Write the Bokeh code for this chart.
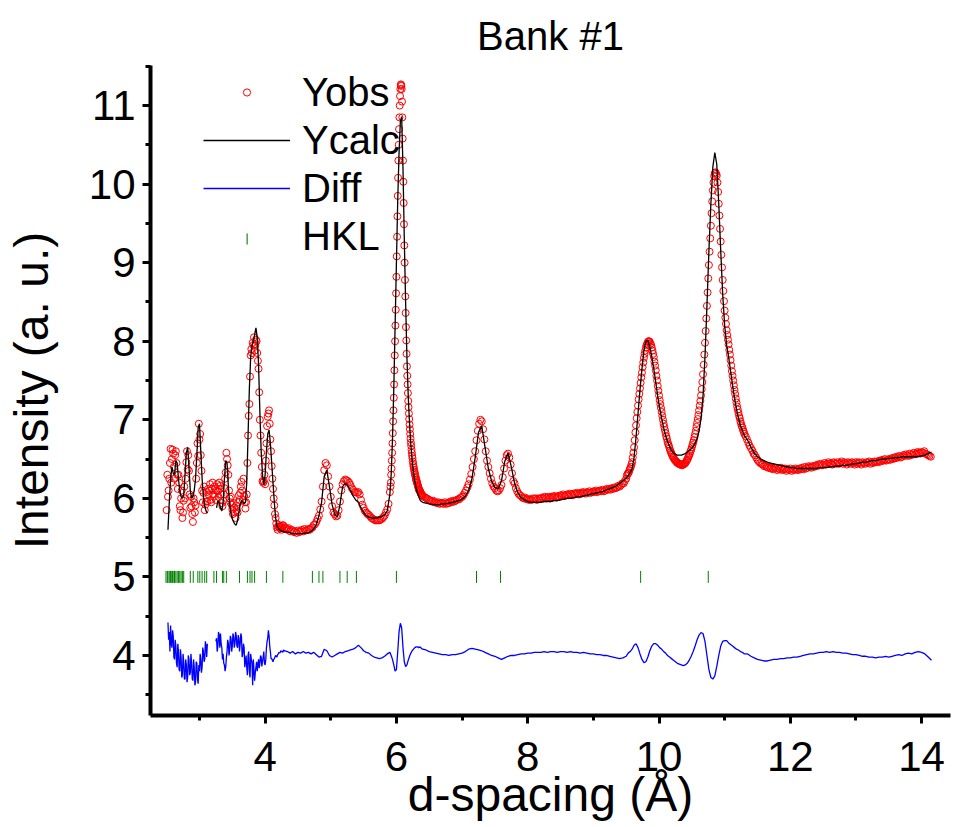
import numpy as np
from bokeh.plotting import figure
from bokeh.models import (Range1d, Legend, LegendItem, SingleIntervalTicker,
                          BoxAnnotation)
from bokeh.embed import file_html
from bokeh.resources import INLINE

nan = float("nan")
FONT = "Liberation Sans"

# ---- calculated profile, bank 1 (d in Angstrom) ----
d_low = [2.52, 2.54, 2.56, 2.58, 2.60, 2.62, 2.64, 2.66, 2.68, 2.70,
         2.72, 2.74, 2.76, 2.78, 2.80, 2.82, 2.84, 2.86, 2.88, 2.90,
         2.92, 2.94, 2.96, 2.98, 3.00, 3.02, 3.04, 3.06, 3.08, 3.10,
         3.12, 3.14, 3.16, 3.18, 3.20, 3.22, 3.24, 3.26, 3.28, 3.30,
         3.32, 3.34, 3.36, 3.38, 3.40, 3.42, 3.44, 3.46, 3.48, 3.50,
         3.52, 3.54, 3.56, 3.58, 3.60, 3.62, 3.64, 3.66, 3.68, 3.70,
         3.72, 3.74, 3.76, 3.78, 3.80, 3.82, 3.84, 3.86, 3.88, 3.90,
         3.92, 3.94, 3.96, 3.98, 4.00, 4.02, 4.04, 4.06, 4.08, 4.10,
         4.12, 4.14, 4.16, 4.18, 4.20, 4.22, 4.24, 4.26, 4.28, 4.30]
calc_low = [5.60, 5.95, 6.25, 6.40, 6.32, 6.30, 6.48, 6.45, 6.25, 6.10,
            6.02, 6.00, 6.05, 6.30, 6.58, 6.65, 6.40, 6.10, 6.00, 6.02,
            6.10, 6.25, 6.55, 6.90, 6.95, 6.60, 6.25, 6.02, 5.90, 5.84,
            5.81, nan, nan, nan, nan, nan, nan, 5.88, 5.97, 5.95,
            5.88, 5.84, 5.95, 6.25, 6.48, 6.45, 6.15, 5.92, 5.80, 5.74,
            5.70, 5.67, 5.66, 5.72, 5.82, 5.92, 5.97, 5.96, 5.93, 5.95,
            6.20, 6.80, 7.40, 7.80, 7.95, 8.00, 8.08, 8.17, 8.05, 7.70,
            7.10, 6.60, 6.30, 6.17, 6.30, 6.60, 6.82, 6.87, 6.70, 6.45,
            6.20, 5.95, 5.75, 5.65, 5.62, 5.60, 5.59, 5.58, 5.58, 5.57]

d_mid = [4.34, 4.38, 4.42, 4.46, 4.50, 4.54, 4.58, 4.62, 4.66, 4.70,
         4.74, 4.78, 4.82, 4.86, 4.90, 4.94, 4.98, 5.02, 5.06, 5.10,
         5.14, 5.18, 5.22, 5.26, 5.30, 5.34, 5.38, 5.42, 5.46, 5.50,
         5.54, 5.58, 5.62, 5.66, 5.70, 5.74, 5.78, 5.82, 5.86, 5.90]
calc_mid = [5.57, 5.56, 5.55, 5.55, 5.55, 5.55, 5.55, 5.56, 5.56, 5.58,
            5.61, 5.67, 5.78, 5.95, 6.28, 6.36, 6.15, 5.92, 5.80, 5.76,
            5.92, 6.15, 6.19, 6.16, 6.10, 6.03, 5.98, 5.95, 5.88, 5.82,
            5.78, 5.76, 5.75, 5.75, 5.75, 5.76, 5.77, 5.79, 5.84, 6.05]
diff_mid = [4.05, 4.03, 4.05, 4.02, 4.04, 4.03, 4.05, 4.03, 4.04, 4.02,
            4.04, 4.01, 3.98, 3.99, 4.08, 4.06, 4.00, 3.98, 4.00, 4.02,
            4.04, 4.03, 4.05, 4.06, 4.07, 4.08, 4.10, 4.13, 4.10, 4.06,
            4.04, 4.03, 4.00, 3.98, 3.97, 3.96, 3.97, 3.99, 4.02, 4.04]

d_peak6 = [5.92, 5.94, 5.96, 5.98, 6.00, 6.02, 6.04, 6.06, 6.08, 6.10,
           6.12, 6.14, 6.16, 6.18, 6.20, 6.22, 6.24, 6.26, 6.28, 6.30,
           6.32, 6.34, 6.36, 6.38, 6.40]
calc_peak6 = [6.30, 6.75, 7.40, 8.20, 9.00, 9.80, 10.40, 10.80, 10.86, 10.20,
              9.30, 8.50, 7.80, 7.30, 6.95, 6.68, 6.48, 6.33, 6.22, 6.13,
              6.07, 6.02, 5.98, 5.96, 5.95]
diff_peak6 = [4.00, 3.95, 3.88, 3.80, 3.82, 4.05, 4.30, 4.41, 4.35, 4.10,
              3.92, 3.86, 3.88, 3.94, 3.99, 4.03, 4.06, 4.08, 4.10, 4.11,
              4.11, 4.10, 4.11, 4.09, 4.08]

d_flat = [6.45, 6.50, 6.55, 6.60, 6.65, 6.70, 6.75, 6.80, 6.85, 6.90,
          6.95, 7.00, 7.05, 7.10, 7.15, 7.20, 7.25, 7.30, 7.35, 7.40,
          7.45, 7.50, 7.55, 7.60, 7.65, 7.70, 7.75, 7.80, 7.85, 7.90,
          7.95, 8.00, 8.05, 8.10, 8.15, 8.20, 8.25, 8.30, 8.35, 8.40,
          8.45, 8.50, 8.55, 8.60, 8.65, 8.70, 8.75, 8.80, 8.85, 8.90,
          8.95, 9.00, 9.05, 9.10, 9.15, 9.20, 9.25, 9.30, 9.35, 9.40,
          9.45, 9.50]
calc_flat = [5.94, 5.93, 5.92, 5.92, 5.92, 5.93, 5.93, 5.94, 5.95, 5.96,
             5.97, 5.99, 6.03, 6.10, 6.25, 6.52, 6.84, 6.92, 6.65, 6.38,
             6.22, 6.14, 6.12, 6.22, 6.47, 6.58, 6.40, 6.19, 6.07, 6.01,
             5.98, 5.96, 5.95, 5.95, 5.95, 5.95, 5.96, 5.96, 5.96, 5.97,
             5.97, 5.98, 5.99, 6.00, 6.00, 6.01, 6.02, 6.02, 6.03, 6.04,
             6.05, 6.06, 6.07, 6.08, 6.09, 6.11, 6.12, 6.14, 6.16, 6.19,
             6.22, 6.26]
diff_flat = [4.07, 4.05, 4.04, 4.03, 4.02, 4.01, 4.01, 4.00, 4.01, 4.01,
             4.02, 4.03, 4.05, 4.08, 4.09, 4.08, 4.07, 4.06, 4.04, 4.02,
             4.00, 3.99, 3.97, 3.95, 3.97, 3.99, 4.00, 4.00, 4.01, 4.02,
             4.02, 4.03, 4.03, 4.04, 4.04, 4.04, 4.05, 4.04, 4.05, 4.05,
             4.04, 4.05, 4.05, 4.04, 4.05, 4.04, 4.04, 4.03, 4.04, 4.03,
             4.02, 4.02, 4.01, 4.01, 4.00, 4.00, 3.99, 3.98, 3.97, 3.96,
             3.97, 3.99]

d_pair = [9.53, 9.56, 9.59, 9.62, 9.65, 9.68, 9.71, 9.74, 9.77, 9.80,
          9.83, 9.86, 9.89, 9.92, 9.95, 9.98, 10.01, 10.04, 10.07, 10.10,
          10.13, 10.16, 10.19, 10.22, 10.25, 10.28, 10.31, 10.34, 10.37, 10.40,
          10.43, 10.46, 10.49, 10.52, 10.55, 10.58, 10.61, 10.64, 10.67, 10.70,
          10.73, 10.76, 10.79, 10.82, 10.85, 10.88, 10.91, 10.94, 10.97, 11.00,
          11.03, 11.06, 11.09, 11.12, 11.15, 11.18, 11.21, 11.24, 11.27, 11.30]
calc_pair = [6.29, 6.33, 6.38, 6.52, 6.78, 7.08, 7.38, 7.65, 7.88, 8.00,
             8.01, 7.93, 7.80, 7.65, 7.48, 7.30, 7.15, 7.02, 6.90, 6.80,
             6.72, 6.66, 6.61, 6.58, 6.56, 6.55, 6.55, 6.55, 6.56, 6.57,
             6.59, 6.61, 6.63, 6.66, 6.70, 6.76, 6.86, 7.02, 7.30, 7.80,
             8.45, 9.15, 9.75, 10.22, 10.40, 10.25, 9.75, 9.15, 8.60, 8.20,
             7.95, 7.80, 7.62, 7.44, 7.28, 7.14, 7.02, 6.93, 6.86, 6.80]
diff_pair = [4.03, 4.05, 4.08, 4.13, 4.15, 4.10, 4.02, 3.95, 3.91, 3.92,
             3.98, 4.06, 4.12, 4.15, 4.15, 4.13, 4.10, 4.08, 4.05, 4.03,
             4.00, 3.98, 3.96, 3.94, 3.92, 3.90, 3.89, 3.88, 3.87, 3.88,
             3.90, 3.94, 3.99, 4.05, 4.12, 4.20, 4.26, 4.29, 4.28, 4.18,
             4.00, 3.82, 3.72, 3.70, 3.74, 3.86, 4.00, 4.12, 4.18, 4.19,
             4.19, 4.16, 4.14, 4.12, 4.10, 4.08, 4.07, 4.05, 4.04, 4.02]

d_tail = [11.35, 11.40, 11.45, 11.50, 11.55, 11.60, 11.65, 11.70, 11.75, 11.80,
          11.85, 11.90, 11.95, 12.00, 12.05, 12.10, 12.15, 12.20, 12.25, 12.30,
          12.35, 12.40, 12.45, 12.50, 12.55, 12.60, 12.65, 12.70, 12.75, 12.80,
          12.85, 12.90, 12.95, 13.00, 13.05, 13.10, 13.15, 13.20, 13.25, 13.30,
          13.35, 13.40, 13.45, 13.50, 13.55, 13.60, 13.65, 13.70, 13.75, 13.80,
          13.85, 13.90, 13.95, 14.00, 14.05, 14.10, 14.15]
calc_tail = [6.74, 6.65, 6.58, 6.53, 6.50, 6.48, 6.46, 6.45, 6.44, 6.43,
             6.42, 6.41, 6.40, 6.39, 6.39, 6.38, 6.38, 6.38, 6.38, 6.38,
             6.38, 6.38, 6.39, 6.39, 6.39, 6.40, 6.40, 6.41, 6.41, 6.42,
             6.42, 6.43, 6.44, 6.44, 6.45, 6.46, 6.46, 6.47, 6.48, 6.48,
             6.49, 6.50, 6.50, 6.51, 6.51, 6.52, 6.52, 6.53, 6.53, 6.53,
             6.53, 6.53, 6.53, 6.54, 6.55, 6.57, 6.59]
diff_tail = [4.02, 3.99, 3.97, 3.95, 3.94, 3.93, 3.93, 3.94, 3.95, 3.95,
             3.96, 3.96, 3.97, 3.97, 3.98, 3.98, 3.99, 4.00, 4.01, 4.02,
             4.02, 4.03, 4.04, 4.04, 4.05, 4.04, 4.05, 4.04, 4.04, 4.03,
             4.03, 4.02, 4.01, 4.01, 4.00, 3.99, 3.99, 3.98, 3.98, 3.97,
             3.98, 3.98, 3.99, 3.98, 3.99, 4.00, 4.01, 4.00, 4.02, 4.03,
             4.02, 4.04, 4.05, 4.04, 4.02, 3.98, 3.94]

# difference curve below 4.3 A, sampled every 0.01 A from 2.52 A
diff_low_start, diff_low_step = 2.52, 0.01
diff_low = [4.42, 4.20, 4.30, 4.05, 4.38, 4.15, 4.10, 4.32, 4.25, 3.98,
            3.95, 4.20, 4.12, 3.90, 3.85, 4.15, 4.05, 3.82, 3.80, 4.08,
            3.98, 3.72, 3.75, 4.02, 3.92, 3.70, 3.70, 3.95, 3.88, 3.66,
            3.72, 4.00, 3.95, 3.75, 3.78, 4.02, 3.90, 3.70, 3.68, 3.95,
            3.85, 3.62, 3.66, 3.92, 3.90, 3.70, 3.64, 3.88, 3.80, 4.02,
            3.95, 3.78, 3.85, 4.10, 4.05, 3.92, 3.95, 4.18, 4.12, 3.98,
            4.15, nan, nan, nan, nan, nan, nan, nan, nan, nan,
            nan, nan, nan, 4.18, 4.22, 4.05, 4.12, 4.30, 4.25, 4.10,
            4.28, 4.15, 4.10, 3.95, 4.02, 3.90, 3.88, 3.80, 3.85, 3.98,
            4.05, 4.20, 4.15, 4.00, 4.08, 4.25, 4.22, 4.05, 4.12, 4.28,
            4.24, 4.10, 4.15, 4.30, 4.25, 4.12, 4.10, 4.26, 4.22, 4.05,
            4.15, 4.28, 4.24, 3.98, 4.02, 4.15, 4.10, 3.85, 3.92, 4.00,
            3.85, 3.75, 4.00, 4.05, 3.80, 3.72, 4.02, 3.95, 3.90, 3.62,
            3.95, 3.82, 3.68, 3.78, 3.85, 3.92, 3.80, 3.88, 3.95, 3.84,
            3.90, 4.00, 3.98, 3.86, 3.92, 3.98, 4.05, 3.90, 3.88, 3.95,
            4.10, 4.18, 4.22, 4.32, 4.25, 4.12, 4.05, 3.96, 3.96, 3.94,
            3.92, 3.95, 3.96, 3.98, 4.00, 3.99, 3.98, 4.01, 4.02, 4.04,
            4.03, 4.04, 4.06, 4.05, 4.05, 4.04, 4.07, 4.06, 4.06]

# ---- observed intensities: (first d, d step, values) per scan segment ----
obs_low = [5.85, 6.30, 6.02, 6.10, 6.25, 6.45, 6.63, 6.20, 6.50, 6.62,
           6.57, 6.40, 6.25, 6.55, 6.60, 6.45, 6.30, 6.12, 6.30, 6.20,
           5.90, 5.85, 6.00, 6.10, 5.75, 5.82, 5.97, 6.15, 6.00, 6.25,
           6.46, 6.60, 6.37, 6.55, 6.35, 6.05, 5.88, 6.02, 5.90, 5.80,
           5.70, 6.00, 5.95, 5.82, 5.91, 6.25, 6.45, 6.70, 6.54, 6.95,
           6.75, 6.82, 6.55, 6.35, 6.10, 5.95, 6.07, 6.15, 5.85, 5.92,
           5.96, 6.08, 5.96, 6.12, 6.05, 6.10, 6.18, 5.98, 5.95, 6.12,
           6.20, 6.05, 6.02, 6.15, 6.12, 5.98, 6.10, 6.18, 6.09, 6.02,
           6.20, 6.12, 6.16, 6.05, 5.94, 5.90, 5.97, 6.05, 6.13, 6.25,
           6.33, 6.58, 6.50, 6.42, 6.30, 6.10, 6.00, 5.95, 6.02, 5.92,
           5.86, 5.80, 5.94, 5.88, 5.82, 5.75, 5.91, 5.85, 5.82, 5.95,
           6.04, 5.98, 6.07, 6.15, 6.21, 6.10, 5.98, 6.25, 6.03, 5.95,
           5.87, 5.95, 6.05, 6.45, 6.80, 7.05, 7.20, 7.55, 7.82, 7.90,
           7.85, 7.98, 7.95, 8.05, 7.88, 7.95, 8.02, 8.00, 7.85, 7.75,
           7.65, 7.35, 7.00, 6.80, 6.58, 6.40, 6.22, 6.20, 6.22, 6.30,
           6.18, 6.48, 6.70, 6.92, 7.04, 7.08, 7.12, 6.95, 6.75, 6.60,
           6.41, 6.25, 6.12, 6.00, 5.91, 5.80, 5.75, 5.68, 5.63, 5.60,
           5.64, 5.66, 5.64, 5.62, 5.65, 5.60, 5.63, 5.66, 5.65, 5.61,
           5.63]
obs_mid = [5.62, 5.60, 5.62, 5.58, 5.60, 5.59, 5.57, 5.58, 5.56, 5.59,
           5.57, 5.58, 5.60, 5.58, 5.61, 5.59, 5.60, 5.61, 5.60, 5.62,
           5.63, 5.66, 5.67, 5.70, 5.74, 5.78, 5.86, 5.96, 6.15, 6.36,
           6.45, 6.42, 6.28, 6.15, 6.02, 5.90, 5.82, 5.80, 5.77, 5.78,
           5.85, 5.96, 6.10, 6.18, 6.22, 6.24, 6.23, 6.22, 6.20, 6.17,
           6.13, 6.11, 6.08, 6.08, 6.07, 6.08, 6.05, 5.98, 5.92, 5.88,
           5.84, 5.82, 5.80, 5.79, 5.77, 5.75, 5.74, 5.73, 5.72, 5.72,
           5.72, 5.72, 5.73, 5.74, 5.76, 5.78, 5.82, 5.86, 5.93, 6.08]
obs_peak6 = [6.15, 6.20, 6.30, 6.38, 6.48, 6.58, 6.70, 6.83, 6.98, 7.12,
             7.28, 7.45, 7.63, 7.82, 8.00, 8.20, 8.40, 8.61, 8.82, 9.08,
             9.33, 9.59, 9.85, 10.08, 10.30, 10.50, 10.70, 10.85, 11.00, 11.12,
             11.21, 11.26, 11.27, 11.25, 11.21, 11.05, 10.85, 10.58, 10.30, 10.03,
             9.76, 9.49, 9.22, 9.00, 8.78, 8.57, 8.36, 8.18, 8.01, 7.84,
             7.68, 7.56, 7.45, 7.34, 7.24, 7.16, 7.08, 7.01, 6.94, 6.88,
             6.82, 6.76, 6.71, 6.67, 6.62, 6.58, 6.54, 6.51, 6.47, 6.44,
             6.41, 6.39, 6.36, 6.34, 6.32, 6.30, 6.28, 6.26, 6.24, 6.23,
             6.21, 6.20, 6.18, 6.17, 6.15, 6.14, 6.12, 6.11, 6.10, 6.10,
             6.09, 6.08, 6.07, 6.06, 6.05, 6.05, 6.04, 6.04, 6.03]
obs_flat = [6.02, 6.01, 6.00, 5.99, 5.98, 5.97, 5.96, 5.97, 5.95, 5.95,
            5.94, 5.95, 5.93, 5.94, 5.94, 5.93, 5.95, 5.93, 5.94, 5.94,
            5.96, 5.95, 5.97, 5.96, 5.97, 5.98, 5.99, 5.99, 6.01, 6.02,
            6.04, 6.07, 6.10, 6.14, 6.18, 6.24, 6.31, 6.40, 6.50, 6.60,
            6.74, 6.86, 6.95, 7.00, 6.98, 6.88, 6.75, 6.60, 6.48, 6.40,
            6.32, 6.25, 6.19, 6.15, 6.13, 6.10, 6.09, 6.10, 6.13, 6.17,
            6.27, 6.38, 6.48, 6.55, 6.57, 6.52, 6.43, 6.32, 6.22, 6.19,
            6.13, 6.09, 6.06, 6.04, 6.03, 6.01, 6.00, 6.01, 5.99, 5.99,
            5.98, 5.99, 5.98, 6.00, 5.99, 6.00, 5.98, 6.00, 5.99, 6.00,
            6.01, 6.00, 6.02, 6.00, 6.01, 6.02, 6.00, 6.02, 6.01, 6.03,
            6.02, 6.01, 6.03, 6.02, 6.04, 6.03, 6.05, 6.03, 6.04, 6.05,
            6.04, 6.06, 6.05, 6.04, 6.06, 6.05, 6.07, 6.06, 6.05, 6.07,
            6.06, 6.08, 6.07, 6.06, 6.08, 6.07, 6.09, 6.07, 6.08, 6.09,
            6.08, 6.10, 6.08, 6.09, 6.10, 6.09, 6.11, 6.09, 6.10, 6.12,
            6.11, 6.12, 6.11, 6.13, 6.12, 6.14, 6.13, 6.14, 6.16, 6.15,
            6.17, 6.19, 6.19, 6.22, 6.25]
obs_pair = [6.29, 6.31, 6.32, 6.33, 6.36, 6.38, 6.40, 6.43, 6.46, 6.52,
            6.58, 6.65, 6.74, 6.84, 6.93, 7.02, 7.10, 7.18, 7.26, 7.33,
            7.40, 7.47, 7.54, 7.60, 7.67, 7.73, 7.79, 7.84, 7.88, 7.92,
            7.95, 7.97, 7.99, 8.00, 8.00, 7.99, 7.97, 7.95, 7.92, 7.88,
            7.84, 7.80, 7.74, 7.69, 7.63, 7.56, 7.50, 7.43, 7.37, 7.31,
            7.25, 7.20, 7.15, 7.10, 7.05, 7.00, 6.95, 6.91, 6.87, 6.83,
            6.79, 6.76, 6.72, 6.69, 6.67, 6.64, 6.61, 6.59, 6.57, 6.55,
            6.53, 6.52, 6.50, 6.49, 6.48, 6.47, 6.46, 6.45, 6.45, 6.44,
            6.44, 6.43, 6.43, 6.43, 6.42, 6.43, 6.43, 6.44, 6.44, 6.45,
            6.46, 6.48, 6.49, 6.51, 6.53, 6.55, 6.57, 6.60, 6.62, 6.65,
            6.68, 6.71, 6.74, 6.78, 6.82, 6.86, 6.91, 6.96, 7.01, 7.06,
            7.12, 7.18, 7.24, 7.31, 7.39, 7.48, 7.58, 7.70, 7.83, 7.98,
            8.13, 8.29, 8.45, 8.62, 8.80, 8.97, 9.14, 9.31, 9.47, 9.63,
            9.78, 9.92, 10.02, 10.10, 10.14, 10.15, 10.13, 10.11, 10.02, 9.90,
            9.75, 9.60, 9.43, 9.27, 9.10, 8.94, 8.78, 8.64, 8.51, 8.39,
            8.30, 8.22, 8.14, 8.08, 8.02, 7.96, 7.89, 7.83, 7.76, 7.69,
            7.62, 7.56, 7.50, 7.44, 7.38, 7.33, 7.27, 7.22, 7.17, 7.13,
            7.09, 7.05, 7.02, 6.98, 6.95, 6.92, 6.90, 6.87, 6.85, 6.82]
obs_tail = [6.79, 6.75, 6.71, 6.67, 6.64, 6.61, 6.57, 6.55, 6.52, 6.49,
            6.47, 6.45, 6.44, 6.43, 6.41, 6.42, 6.40, 6.39, 6.40, 6.38,
            6.39, 6.37, 6.39, 6.38, 6.36, 6.38, 6.37, 6.39, 6.36, 6.37,
            6.38, 6.35, 6.37, 6.36, 6.38, 6.35, 6.37, 6.36, 6.38, 6.37,
            6.36, 6.38, 6.37, 6.39, 6.37, 6.40, 6.38, 6.39, 6.41, 6.40,
            6.39, 6.41, 6.40, 6.42, 6.41, 6.43, 6.42, 6.44, 6.42, 6.43,
            6.45, 6.43, 6.44, 6.46, 6.44, 6.45, 6.43, 6.46, 6.45, 6.44,
            6.46, 6.44, 6.45, 6.47, 6.44, 6.46, 6.45, 6.43, 6.46, 6.45,
            6.44, 6.46, 6.45, 6.43, 6.46, 6.44, 6.46, 6.45, 6.43, 6.46,
            6.45, 6.44, 6.46, 6.45, 6.47, 6.44, 6.46, 6.45, 6.47, 6.46,
            6.47, 6.46, 6.48, 6.47, 6.49, 6.48, 6.50, 6.48, 6.49, 6.50,
            6.49, 6.51, 6.50, 6.52, 6.51, 6.53, 6.52, 6.54, 6.52, 6.53,
            6.55, 6.54, 6.56, 6.55, 6.54, 6.57, 6.55, 6.56, 6.58, 6.56,
            6.57, 6.59, 6.58, 6.57, 6.59, 6.58, 6.60, 6.57, 6.56, 6.55,
            6.54, 6.53]
obs_segments = [(2.50, 0.01, obs_low), (4.32, 0.02, obs_mid),
                (5.91, 0.005, obs_peak6), (6.42, 0.02, obs_flat),
                (9.51, 0.01, obs_pair), (11.32, 0.02, obs_tail)]

# Bragg reflection positions
hkl_d = [2.49, 2.51, 2.52, 2.54, 2.56, 2.57, 2.59, 2.61, 2.62, 2.64,
         2.66, 2.68, 2.70, 2.72, 2.74, 2.76, 2.86, 2.905, 2.975, 3.005,
         3.04, 3.08, 3.11, 3.22, 3.26, 3.35, 3.37, 3.41, 3.61, 3.73,
         3.77, 3.80, 3.84, 4.02, 4.27, 4.72, 4.82, 4.88, 5.14, 5.25,
         5.39, 6.00, 7.22, 7.585, 9.72, 10.75]
hkl_level = 5.0

calc_x = np.array(d_low + d_mid + d_peak6 + d_flat + d_pair + d_tail)
calc_y = np.array(calc_low + calc_mid + calc_peak6 + calc_flat + calc_pair + calc_tail, dtype=float)

diff_low_x = diff_low_start + diff_low_step * np.arange(len(diff_low))
diff_x = np.concatenate([diff_low_x, d_mid + d_peak6 + d_flat + d_pair + d_tail])
diff_y = np.array(diff_low + diff_mid + diff_peak6 + diff_flat + diff_pair + diff_tail, dtype=float)

obs_x = np.concatenate([start + step * np.arange(len(vals)) for start, step, vals in obs_segments])
obs_y = np.concatenate([np.asarray(vals, dtype=float) for _, _, vals in obs_segments])

p = figure(width=954, height=827,
           x_range=Range1d(2.254, 14.44), y_range=Range1d(3.236, 11.51),
           output_backend="svg", toolbar_location=None,
           min_border_left=150, min_border_right=4,
           min_border_top=65, min_border_bottom=112)

p.title.text = "Bank #1"
p.title.align = "center"
p.title.text_font = FONT
p.title.text_font_size = "40px"
p.title.text_font_style = "normal"
p.title.text_color = "black"
p.title.standoff = 15

r_obs = p.scatter(obs_x, obs_y, marker="circle", size=7, fill_color=None,
                  line_color="#ff0000", line_width=1)
r_calc = p.line(calc_x, calc_y, line_color="black", line_width=1.3)
r_diff = p.line(diff_x, diff_y, line_color="#0000ff", line_width=1.3)
r_hkl = p.scatter(hkl_d, [hkl_level] * len(hkl_d), marker="dash", angle=np.pi / 2,
                  size=12, line_color="#008000", line_width=1)
# legend key for the reflection ticks is drawn separately as a short upright bar
r_hkl_key = p.scatter([], [], marker="dash", line_alpha=0, fill_alpha=0)

legend = Legend(items=[LegendItem(label="Yobs", renderers=[r_obs]),
                       LegendItem(label="Ycalc", renderers=[r_calc]),
                       LegendItem(label="Diff", renderers=[r_diff]),
                       LegendItem(label="HKL", renderers=[r_hkl_key])],
                location=(53, 456), border_line_color=None,
                background_fill_alpha=0, label_text_font=FONT,
                label_text_color="black",
                label_text_font_size="40px", glyph_width=87, glyph_height=18,
                label_height=46, spacing=2, padding=0, margin=0,
                label_standoff=12)
p.add_layout(legend)
p.add_layout(BoxAnnotation(left=246, right=247.3, top=233, bottom=244,
                           left_units="canvas", right_units="canvas",
                           top_units="canvas", bottom_units="canvas",
                           fill_color="#008000", fill_alpha=0.85,
                           line_alpha=0))

p.xaxis.ticker = SingleIntervalTicker(interval=2, num_minor_ticks=2)
p.yaxis.ticker = SingleIntervalTicker(interval=1, num_minor_ticks=2)
p.xaxis.axis_label = "d-spacing (Å)"
p.yaxis.axis_label = "Intensity (a. u.)"

for ax in (p.xaxis, p.yaxis):
    ax.axis_line_width = 4
    ax.axis_line_color = "black"
    ax.major_tick_line_width = 3
    ax.minor_tick_line_width = 3
    ax.major_tick_out = 8
    ax.major_tick_in = 0
    ax.minor_tick_out = 5
    ax.minor_tick_in = 0
    ax.major_label_text_font = FONT
    ax.major_label_text_color = "black"
    ax.major_label_text_font_size = "42px"
    ax.axis_label_text_font = FONT
    ax.axis_label_text_font_style = "normal"
    ax.axis_label_text_color = "black"
    ax.axis_label_text_font_size = "48px"

p.xaxis.major_label_standoff = 18
p.yaxis.major_label_standoff = 7
p.xaxis.axis_label_standoff = -6
p.yaxis.axis_label_standoff = 28

p.xgrid.visible = False
p.ygrid.visible = False
p.outline_line_color = None
p.background_fill_color = "white"
p.border_fill_color = "white"

open("out.html", "w").write(file_html(p, INLINE))
